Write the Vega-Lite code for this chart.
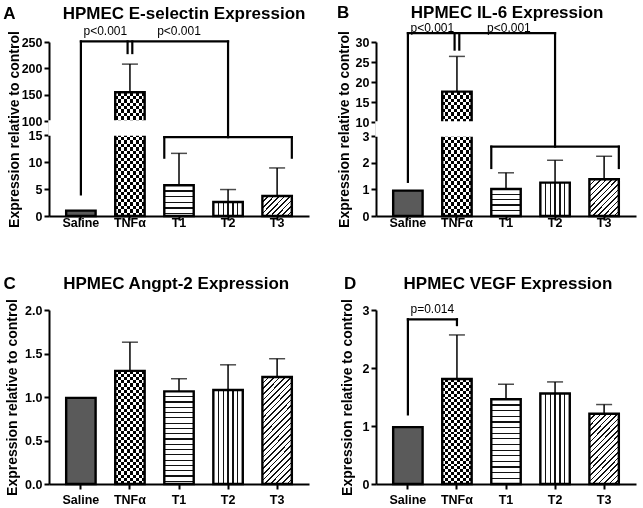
{
"$schema":"https://vega.github.io/schema/vega-lite/v6.json",
"background":"white",
"padding":{"left":3,"top":4,"right":5,"bottom":3},
"columns":2,
"spacing":{"row":45,"column":27},
"config":{
 "view":{"stroke":null},
 "axis":{"domainColor":"#000","domainWidth":2,"tickColor":"#000","tickWidth":2,"tickSize":5,"labelColor":"#000","labelFont":"Liberation Sans","labelFontSize":12.5,"labelFontWeight":"bold","titleColor":"#000","titleFont":"Liberation Sans","titleFontSize":14,"titleFontWeight":"bold","grid":false,"labelOverlap":false},
 "title":{"font":"Liberation Sans","fontSize":17,"fontWeight":"bold","color":"#000","anchor":"start","frame":"bounds","offset":2}
},
"datasets":{
 "A":[{"group":"Saline","mean":1},{"group":"TNFα","mean":154.5,"upper":208},{"group":"T1","mean":5.7,"upper":11.6},{"group":"T2","mean":2.6,"upper":4.9},{"group":"T3","mean":3.7,"upper":8.9}],
 "B":[{"group":"Saline","mean":0.95},{"group":"TNFα","mean":17.6,"upper":26.4},{"group":"T1","mean":1.01,"upper":1.62},{"group":"T2","mean":1.25,"upper":2.09},{"group":"T3","mean":1.38,"upper":2.24}],
 "C":[{"group":"Saline","mean":0.99},{"group":"TNFα","mean":1.3,"upper":1.63},{"group":"T1","mean":1.065,"upper":1.21},{"group":"T2","mean":1.08,"upper":1.37},{"group":"T3","mean":1.23,"upper":1.44}],
 "D":[{"group":"Saline","mean":0.98},{"group":"TNFα","mean":1.81,"upper":2.57},{"group":"T1","mean":1.46,"upper":1.72},{"group":"T2","mean":1.56,"upper":1.76},{"group":"T3","mean":1.21,"upper":1.37}],
 "Abr":[{"part":"mid","g1":"Saline","g2":"Saline","lo":4,"hi":251},{"part":"mid","g1":"Saline","g2":"T2","lo":251,"hi":251},{"part":"mid","g1":"T2","g2":"T2","lo":14.6,"hi":251},{"part":"tnf","g1":"TNFα","g2":"TNFα","lo":229,"hi":251},{"part":"l","g1":"T1","g2":"T1","lo":10.8,"hi":14.6},{"part":"h","g1":"T1","g2":"T3","lo":14.6,"hi":14.6},{"part":"r","g1":"T3","g2":"T3","lo":10.8,"hi":14.6}],
 "Bbr":[{"part":"mid","g1":"Saline","g2":"Saline","lo":1.28,"hi":32.2},{"part":"mid","g1":"Saline","g2":"T2","lo":32.2,"hi":32.2},{"part":"mid","g1":"T2","g2":"T2","lo":2.6,"hi":32.2},{"part":"tnf","g1":"TNFα","g2":"TNFα","lo":28.1,"hi":32.2},{"part":"l","g1":"T1","g2":"T1","lo":1.8,"hi":2.6},{"part":"h","g1":"T1","g2":"T3","lo":2.6,"hi":2.6},{"part":"r","g1":"T3","g2":"T3","lo":1.8,"hi":2.6}],
 "Dbr":[{"part":"mid","g1":"Saline","g2":"Saline","lo":1.2,"hi":2.84},{"part":"mid","g1":"Saline","g2":"TNFα","lo":2.84,"hi":2.84},{"part":"mid","g1":"TNFα","g2":"TNFα","lo":2.74,"hi":2.84}],
 "Atxt":[{"g":"Saline","v":263,"label":"p<0.001","k":"a"},{"g":"T1","v":263,"label":"p<0.001","k":"b"}],
 "Btxt":[{"g":"Saline","v":32.5,"label":"p<0.001","k":"a"},{"g":"T1","v":32.5,"label":"p<0.001","k":"b"}],
 "Dtxt":[{"g":"Saline","v":2.95,"label":"p=0.014","k":"a"}]
},
"concat":[
{
 "title":{"text":"A\u00a0\u00a0\u00a0\u00a0\u00a0\u00a0\u00a0\u00a0\u00a0\u00a0HPMEC E-selectin Expression","dx":-4},
 "width":260,"height":174,
 "layer":[
  {"data":{"name":"A"},"transform":[{"filter":"datum.group==='Saline'"}],"mark":{"type":"bar","fill":"#5a5a5a","strokeWidth":0},
   "encoding":{"x":{"field":"group","type":"nominal","scale":{"domain":["Saline","TNFα","T1","T2","T3"],"paddingInner":0.4,"paddingOuter":0.35},"axis":{"title":null,"labelAngle":0,"tickSize":4,"labelPadding":-4}},
    "y":{"field":"mean","type":"quantitative","scale":{"domain":[0,15,100,250],"range":[174,93,79,0],"nice":false,"zero":false},"axis":{"title":"Expression relative to control","values":[0,5,10,15,100,150,200,250],"tickCount":20,"format":"d","labelOverlap":false,"titlePadding":0}}}},
  {"data":{"name":"A"},"transform":[{"filter":"datum.group==='TNFα'"}],"mark":{"type":"bar","strokeWidth":0,"fill":{"gradient":"linear","x1":0,"y1":0,"x2":0,"y2":1,"stops":[{"offset":0,"color":"#000"},{"offset":0.0278,"color":"#000"},{"offset":0.0278,"color":"#fff"},{"offset":0.0556,"color":"#fff"},{"offset":0.0556,"color":"#000"},{"offset":0.0833,"color":"#000"},{"offset":0.0833,"color":"#fff"},{"offset":0.1111,"color":"#fff"},{"offset":0.1111,"color":"#000"},{"offset":0.1389,"color":"#000"},{"offset":0.1389,"color":"#fff"},{"offset":0.1667,"color":"#fff"},{"offset":0.1667,"color":"#000"},{"offset":0.1944,"color":"#000"},{"offset":0.1944,"color":"#fff"},{"offset":0.2222,"color":"#fff"},{"offset":0.2222,"color":"#000"},{"offset":0.25,"color":"#000"},{"offset":0.25,"color":"#fff"},{"offset":0.2778,"color":"#fff"},{"offset":0.2778,"color":"#000"},{"offset":0.3056,"color":"#000"},{"offset":0.3056,"color":"#fff"},{"offset":0.3333,"color":"#fff"},{"offset":0.3333,"color":"#000"},{"offset":0.3611,"color":"#000"},{"offset":0.3611,"color":"#fff"},{"offset":0.3889,"color":"#fff"},{"offset":0.3889,"color":"#000"},{"offset":0.4167,"color":"#000"},{"offset":0.4167,"color":"#fff"},{"offset":0.4444,"color":"#fff"},{"offset":0.4444,"color":"#000"},{"offset":0.4722,"color":"#000"},{"offset":0.4722,"color":"#fff"},{"offset":0.5,"color":"#fff"},{"offset":0.5,"color":"#000"},{"offset":0.5278,"color":"#000"},{"offset":0.5278,"color":"#fff"},{"offset":0.5556,"color":"#fff"},{"offset":0.5556,"color":"#000"},{"offset":0.5833,"color":"#000"},{"offset":0.5833,"color":"#fff"},{"offset":0.6111,"color":"#fff"},{"offset":0.6111,"color":"#000"},{"offset":0.6389,"color":"#000"},{"offset":0.6389,"color":"#fff"},{"offset":0.6667,"color":"#fff"},{"offset":0.6667,"color":"#000"},{"offset":0.6944,"color":"#000"},{"offset":0.6944,"color":"#fff"},{"offset":0.7222,"color":"#fff"},{"offset":0.7222,"color":"#000"},{"offset":0.75,"color":"#000"},{"offset":0.75,"color":"#fff"},{"offset":0.7778,"color":"#fff"},{"offset":0.7778,"color":"#000"},{"offset":0.8056,"color":"#000"},{"offset":0.8056,"color":"#fff"},{"offset":0.8333,"color":"#fff"},{"offset":0.8333,"color":"#000"},{"offset":0.8611,"color":"#000"},{"offset":0.8611,"color":"#fff"},{"offset":0.8889,"color":"#fff"},{"offset":0.8889,"color":"#000"},{"offset":0.9167,"color":"#000"},{"offset":0.9167,"color":"#fff"},{"offset":0.9444,"color":"#fff"},{"offset":0.9444,"color":"#000"},{"offset":0.9722,"color":"#000"},{"offset":0.9722,"color":"#fff"},{"offset":1,"color":"#fff"}]}},
   "encoding":{"x":{"field":"group","type":"nominal","scale":{"domain":["Saline","TNFα","T1","T2","T3"],"paddingInner":0.4,"paddingOuter":0.35}},"y":{"field":"mean","type":"quantitative","scale":{"domain":[0,15,100,250],"range":[174,93,79,0],"nice":false,"zero":false}}}},
  {"data":{"name":"A"},"transform":[{"filter":"datum.group==='TNFα'"}],"mark":{"type":"bar","strokeWidth":0,"blend":"difference","fill":{"gradient":"linear","x1":0,"y1":0,"x2":1,"y2":0,"stops":[{"offset":0,"color":"#fff"},{"offset":0.1,"color":"#fff"},{"offset":0.1,"color":"#000"},{"offset":0.2,"color":"#000"},{"offset":0.2,"color":"#fff"},{"offset":0.3,"color":"#fff"},{"offset":0.3,"color":"#000"},{"offset":0.4,"color":"#000"},{"offset":0.4,"color":"#fff"},{"offset":0.5,"color":"#fff"},{"offset":0.5,"color":"#000"},{"offset":0.6,"color":"#000"},{"offset":0.6,"color":"#fff"},{"offset":0.7,"color":"#fff"},{"offset":0.7,"color":"#000"},{"offset":0.8,"color":"#000"},{"offset":0.8,"color":"#fff"},{"offset":0.9,"color":"#fff"},{"offset":0.9,"color":"#000"},{"offset":1,"color":"#000"}]}},
   "encoding":{"x":{"field":"group","type":"nominal","scale":{"domain":["Saline","TNFα","T1","T2","T3"],"paddingInner":0.4,"paddingOuter":0.35}},"y":{"field":"mean","type":"quantitative","scale":{"domain":[0,15,100,250],"range":[174,93,79,0],"nice":false,"zero":false}}}},
  {"data":{"name":"A"},"transform":[{"filter":"datum.group==='T1'"}],"mark":{"type":"bar","strokeWidth":0,"fill":{"gradient":"linear","x1":0,"y1":0,"x2":0,"y2":1,"stops":[{"offset":0,"color":"#fff"},{"offset":0.165,"color":"#fff"},{"offset":0.165,"color":"#111"},{"offset":0.205,"color":"#111"},{"offset":0.205,"color":"#fff"},{"offset":0.35,"color":"#fff"},{"offset":0.35,"color":"#111"},{"offset":0.39,"color":"#111"},{"offset":0.39,"color":"#fff"},{"offset":0.535,"color":"#fff"},{"offset":0.535,"color":"#111"},{"offset":0.575,"color":"#111"},{"offset":0.575,"color":"#fff"},{"offset":0.72,"color":"#fff"},{"offset":0.72,"color":"#111"},{"offset":0.76,"color":"#111"},{"offset":0.76,"color":"#fff"},{"offset":0.905,"color":"#fff"},{"offset":0.905,"color":"#111"},{"offset":0.945,"color":"#111"},{"offset":0.945,"color":"#fff"},{"offset":1,"color":"#fff"}]}},
   "encoding":{"x":{"field":"group","type":"nominal","scale":{"domain":["Saline","TNFα","T1","T2","T3"],"paddingInner":0.4,"paddingOuter":0.35}},"y":{"field":"mean","type":"quantitative","scale":{"domain":[0,15,100,250],"range":[174,93,79,0],"nice":false,"zero":false}}}},
  {"data":{"name":"A"},"transform":[{"filter":"datum.group==='T2'"}],"mark":{"type":"bar","strokeWidth":0,"fill":{"gradient":"linear","x1":0,"y1":0,"x2":1,"y2":0,"stops":[{"offset":0,"color":"#fff"},{"offset":0.147,"color":"#fff"},{"offset":0.147,"color":"#111"},{"offset":0.187,"color":"#111"},{"offset":0.187,"color":"#fff"},{"offset":0.313,"color":"#fff"},{"offset":0.313,"color":"#111"},{"offset":0.353,"color":"#111"},{"offset":0.353,"color":"#fff"},{"offset":0.48,"color":"#fff"},{"offset":0.48,"color":"#111"},{"offset":0.52,"color":"#111"},{"offset":0.52,"color":"#fff"},{"offset":0.647,"color":"#fff"},{"offset":0.647,"color":"#111"},{"offset":0.687,"color":"#111"},{"offset":0.687,"color":"#fff"},{"offset":0.813,"color":"#fff"},{"offset":0.813,"color":"#111"},{"offset":0.853,"color":"#111"},{"offset":0.853,"color":"#fff"},{"offset":1,"color":"#fff"}]}},
   "encoding":{"x":{"field":"group","type":"nominal","scale":{"domain":["Saline","TNFα","T1","T2","T3"],"paddingInner":0.4,"paddingOuter":0.35}},"y":{"field":"mean","type":"quantitative","scale":{"domain":[0,15,100,250],"range":[174,93,79,0],"nice":false,"zero":false}}}},
  {"data":{"name":"A"},"transform":[{"filter":"datum.group==='T3'"}],"mark":{"type":"bar","strokeWidth":0,"fill":{"gradient":"linear","x1":0,"y1":0,"x2":1.154,"y2":0.769,"stops":[{"offset":0,"color":"#111"},{"offset":0.0333,"color":"#111"},{"offset":0.0333,"color":"#fff"},{"offset":0.1111,"color":"#fff"},{"offset":0.1111,"color":"#111"},{"offset":0.1444,"color":"#111"},{"offset":0.1444,"color":"#fff"},{"offset":0.2222,"color":"#fff"},{"offset":0.2222,"color":"#111"},{"offset":0.2555,"color":"#111"},{"offset":0.2555,"color":"#fff"},{"offset":0.3333,"color":"#fff"},{"offset":0.3333,"color":"#111"},{"offset":0.3666,"color":"#111"},{"offset":0.3666,"color":"#fff"},{"offset":0.4444,"color":"#fff"},{"offset":0.4444,"color":"#111"},{"offset":0.4777,"color":"#111"},{"offset":0.4777,"color":"#fff"},{"offset":0.5556,"color":"#fff"},{"offset":0.5556,"color":"#111"},{"offset":0.5889,"color":"#111"},{"offset":0.5889,"color":"#fff"},{"offset":0.6667,"color":"#fff"},{"offset":0.6667,"color":"#111"},{"offset":0.7,"color":"#111"},{"offset":0.7,"color":"#fff"},{"offset":0.7778,"color":"#fff"},{"offset":0.7778,"color":"#111"},{"offset":0.8111,"color":"#111"},{"offset":0.8111,"color":"#fff"},{"offset":0.8889,"color":"#fff"},{"offset":0.8889,"color":"#111"},{"offset":0.9222,"color":"#111"},{"offset":0.9222,"color":"#fff"},{"offset":1,"color":"#fff"}]}},
   "encoding":{"x":{"field":"group","type":"nominal","scale":{"domain":["Saline","TNFα","T1","T2","T3"],"paddingInner":0.4,"paddingOuter":0.35}},"y":{"field":"mean","type":"quantitative","scale":{"domain":[0,15,100,250],"range":[174,93,79,0],"nice":false,"zero":false}}}},
  {"data":{"name":"A"},"transform":[{"filter":"isValid(datum.upper)"}],"mark":{"type":"rule","color":"#000","strokeWidth":1.5},
   "encoding":{"x":{"field":"group","type":"nominal","scale":{"domain":["Saline","TNFα","T1","T2","T3"],"paddingInner":0.4,"paddingOuter":0.35}},"y":{"field":"mean","type":"quantitative","scale":{"domain":[0,15,100,250],"range":[174,93,79,0],"nice":false,"zero":false}},"y2":{"field":"upper"}}},
  {"data":{"name":"A"},"transform":[{"filter":"isValid(datum.upper)"}],"mark":{"type":"tick","color":"#000","size":16,"thickness":1.5},
   "encoding":{"x":{"field":"group","type":"nominal","scale":{"domain":["Saline","TNFα","T1","T2","T3"],"paddingInner":0.4,"paddingOuter":0.35}},"y":{"field":"upper","type":"quantitative","scale":{"domain":[0,15,100,250],"range":[174,93,79,0],"nice":false,"zero":false}}}},
  {"data":{"name":"A"},"mark":{"type":"bar","fillOpacity":0,"stroke":"#000","strokeWidth":2.4},
   "encoding":{"x":{"field":"group","type":"nominal","scale":{"domain":["Saline","TNFα","T1","T2","T3"],"paddingInner":0.4,"paddingOuter":0.35}},"y":{"field":"mean","type":"quantitative","scale":{"domain":[0,15,100,250],"range":[174,93,79,0],"nice":false,"zero":false}}}},
  {"data":{"values":[{"lo":15,"hi":100}]},"mark":{"type":"rect","fill":"#fff","stroke":"#fff","strokeWidth":1.5},
   "encoding":{"y":{"field":"lo","type":"quantitative","scale":{"domain":[0,15,100,250],"range":[174,93,79,0],"nice":false,"zero":false}},"y2":{"field":"hi"}}},
  {"data":{"name":"Abr"},"transform":[{"filter":"datum.part==='mid'"}],"mark":{"type":"rule","color":"#000","strokeWidth":2.2,"strokeCap":"square"},
   "encoding":{"x":{"field":"g1","type":"nominal","scale":{"domain":["Saline","TNFα","T1","T2","T3"],"paddingInner":0.4,"paddingOuter":0.35}},"x2":{"field":"g2"},"y":{"field":"lo","type":"quantitative","scale":{"domain":[0,15,100,250],"range":[174,93,79,0],"nice":false,"zero":false}},"y2":{"field":"hi"}}},
  {"data":{"name":"Abr"},"transform":[{"filter":"datum.part==='tnf'"}],"mark":{"type":"rule","color":"#000","strokeWidth":2.2,"strokeCap":"square"},
   "encoding":{"x":{"field":"g1","type":"nominal","bandPosition":0.42,"scale":{"domain":["Saline","TNFα","T1","T2","T3"],"paddingInner":0.4,"paddingOuter":0.35}},"y":{"field":"lo","type":"quantitative","scale":{"domain":[0,15,100,250],"range":[174,93,79,0],"nice":false,"zero":false}},"y2":{"field":"hi"}}},
  {"data":{"name":"Abr"},"transform":[{"filter":"datum.part==='tnf'"}],"mark":{"type":"rule","color":"#000","strokeWidth":2.2,"strokeCap":"square"},
   "encoding":{"x":{"field":"g1","type":"nominal","bandPosition":0.58,"scale":{"domain":["Saline","TNFα","T1","T2","T3"],"paddingInner":0.4,"paddingOuter":0.35}},"y":{"field":"lo","type":"quantitative","scale":{"domain":[0,15,100,250],"range":[174,93,79,0],"nice":false,"zero":false}},"y2":{"field":"hi"}}},
  {"data":{"name":"Abr"},"transform":[{"filter":"datum.part==='l'"}],"mark":{"type":"rule","color":"#000","strokeWidth":2.2,"strokeCap":"square"},
   "encoding":{"x":{"field":"g1","type":"nominal","bandPosition":0,"scale":{"domain":["Saline","TNFα","T1","T2","T3"],"paddingInner":0.4,"paddingOuter":0.35}},"y":{"field":"lo","type":"quantitative","scale":{"domain":[0,15,100,250],"range":[174,93,79,0],"nice":false,"zero":false}},"y2":{"field":"hi"}}},
  {"data":{"name":"Abr"},"transform":[{"filter":"datum.part==='r'"}],"mark":{"type":"rule","color":"#000","strokeWidth":2.2,"strokeCap":"square"},
   "encoding":{"x":{"field":"g1","type":"nominal","bandPosition":1,"scale":{"domain":["Saline","TNFα","T1","T2","T3"],"paddingInner":0.4,"paddingOuter":0.35}},"y":{"field":"lo","type":"quantitative","scale":{"domain":[0,15,100,250],"range":[174,93,79,0],"nice":false,"zero":false}},"y2":{"field":"hi"}}},
  {"data":{"name":"Abr"},"transform":[{"filter":"datum.part==='h'"}],"mark":{"type":"rule","color":"#000","strokeWidth":2.2,"strokeCap":"square"},
   "encoding":{"x":{"field":"g1","type":"nominal","bandPosition":0,"scale":{"domain":["Saline","TNFα","T1","T2","T3"],"paddingInner":0.4,"paddingOuter":0.35}},"x2":{"field":"g2","bandPosition":1},"y":{"field":"lo","type":"quantitative","scale":{"domain":[0,15,100,250],"range":[174,93,79,0],"nice":false,"zero":false}},"y2":{"field":"hi"}}},
  {"data":{"name":"Atxt"},"transform":[{"filter":"datum.k==='a'"}],"mark":{"type":"text","font":"Liberation Sans","fontSize":12,"color":"#000","align":"center","baseline":"alphabetic"},
   "encoding":{"x":{"field":"g","type":"nominal","bandPosition":1.33,"scale":{"domain":["Saline","TNFα","T1","T2","T3"],"paddingInner":0.4,"paddingOuter":0.35}},"y":{"field":"v","type":"quantitative","scale":{"domain":[0,15,100,250],"range":[174,93,79,0],"nice":false,"zero":false}},"text":{"field":"label"}}},
  {"data":{"name":"Atxt"},"transform":[{"filter":"datum.k==='b'"}],"mark":{"type":"text","font":"Liberation Sans","fontSize":12,"color":"#000","align":"center","baseline":"alphabetic"},
   "encoding":{"x":{"field":"g","type":"nominal","bandPosition":0.5,"scale":{"domain":["Saline","TNFα","T1","T2","T3"],"paddingInner":0.4,"paddingOuter":0.35}},"y":{"field":"v","type":"quantitative","scale":{"domain":[0,15,100,250],"range":[174,93,79,0],"nice":false,"zero":false}},"text":{"field":"label"}}}
 ]
},
{
 "title":{"text":"B\u00a0\u00a0\u00a0\u00a0\u00a0\u00a0\u00a0\u00a0\u00a0\u00a0\u00a0\u00a0\u00a0HPMEC IL-6 Expression","dx":0,"offset":0},
 "width":260,"height":174,
 "layer":[
  {"data":{"name":"B"},"transform":[{"filter":"datum.group==='Saline'"}],"mark":{"type":"bar","fill":"#5a5a5a","strokeWidth":0},
   "encoding":{"x":{"field":"group","type":"nominal","scale":{"domain":["Saline","TNFα","T1","T2","T3"],"paddingInner":0.4,"paddingOuter":0.35},"axis":{"title":null,"labelAngle":0,"tickSize":4,"labelPadding":-4}},
    "y":{"field":"mean","type":"quantitative","scale":{"domain":[0,3,10,30],"range":[174,94,80,0],"nice":false,"zero":false},"axis":{"title":"Expression relative to control","values":[0,1,2,3,10,15,20,25,30],"tickCount":20,"format":"d","labelOverlap":false,"titlePadding":4}}}},
  {"data":{"name":"B"},"transform":[{"filter":"datum.group==='TNFα'"}],"mark":{"type":"bar","strokeWidth":0,"fill":{"gradient":"linear","x1":0,"y1":0,"x2":0,"y2":1,"stops":[{"offset":0,"color":"#000"},{"offset":0.0278,"color":"#000"},{"offset":0.0278,"color":"#fff"},{"offset":0.0556,"color":"#fff"},{"offset":0.0556,"color":"#000"},{"offset":0.0833,"color":"#000"},{"offset":0.0833,"color":"#fff"},{"offset":0.1111,"color":"#fff"},{"offset":0.1111,"color":"#000"},{"offset":0.1389,"color":"#000"},{"offset":0.1389,"color":"#fff"},{"offset":0.1667,"color":"#fff"},{"offset":0.1667,"color":"#000"},{"offset":0.1944,"color":"#000"},{"offset":0.1944,"color":"#fff"},{"offset":0.2222,"color":"#fff"},{"offset":0.2222,"color":"#000"},{"offset":0.25,"color":"#000"},{"offset":0.25,"color":"#fff"},{"offset":0.2778,"color":"#fff"},{"offset":0.2778,"color":"#000"},{"offset":0.3056,"color":"#000"},{"offset":0.3056,"color":"#fff"},{"offset":0.3333,"color":"#fff"},{"offset":0.3333,"color":"#000"},{"offset":0.3611,"color":"#000"},{"offset":0.3611,"color":"#fff"},{"offset":0.3889,"color":"#fff"},{"offset":0.3889,"color":"#000"},{"offset":0.4167,"color":"#000"},{"offset":0.4167,"color":"#fff"},{"offset":0.4444,"color":"#fff"},{"offset":0.4444,"color":"#000"},{"offset":0.4722,"color":"#000"},{"offset":0.4722,"color":"#fff"},{"offset":0.5,"color":"#fff"},{"offset":0.5,"color":"#000"},{"offset":0.5278,"color":"#000"},{"offset":0.5278,"color":"#fff"},{"offset":0.5556,"color":"#fff"},{"offset":0.5556,"color":"#000"},{"offset":0.5833,"color":"#000"},{"offset":0.5833,"color":"#fff"},{"offset":0.6111,"color":"#fff"},{"offset":0.6111,"color":"#000"},{"offset":0.6389,"color":"#000"},{"offset":0.6389,"color":"#fff"},{"offset":0.6667,"color":"#fff"},{"offset":0.6667,"color":"#000"},{"offset":0.6944,"color":"#000"},{"offset":0.6944,"color":"#fff"},{"offset":0.7222,"color":"#fff"},{"offset":0.7222,"color":"#000"},{"offset":0.75,"color":"#000"},{"offset":0.75,"color":"#fff"},{"offset":0.7778,"color":"#fff"},{"offset":0.7778,"color":"#000"},{"offset":0.8056,"color":"#000"},{"offset":0.8056,"color":"#fff"},{"offset":0.8333,"color":"#fff"},{"offset":0.8333,"color":"#000"},{"offset":0.8611,"color":"#000"},{"offset":0.8611,"color":"#fff"},{"offset":0.8889,"color":"#fff"},{"offset":0.8889,"color":"#000"},{"offset":0.9167,"color":"#000"},{"offset":0.9167,"color":"#fff"},{"offset":0.9444,"color":"#fff"},{"offset":0.9444,"color":"#000"},{"offset":0.9722,"color":"#000"},{"offset":0.9722,"color":"#fff"},{"offset":1,"color":"#fff"}]}},
   "encoding":{"x":{"field":"group","type":"nominal","scale":{"domain":["Saline","TNFα","T1","T2","T3"],"paddingInner":0.4,"paddingOuter":0.35}},"y":{"field":"mean","type":"quantitative","scale":{"domain":[0,3,10,30],"range":[174,94,80,0],"nice":false,"zero":false}}}},
  {"data":{"name":"B"},"transform":[{"filter":"datum.group==='TNFα'"}],"mark":{"type":"bar","strokeWidth":0,"blend":"difference","fill":{"gradient":"linear","x1":0,"y1":0,"x2":1,"y2":0,"stops":[{"offset":0,"color":"#fff"},{"offset":0.1,"color":"#fff"},{"offset":0.1,"color":"#000"},{"offset":0.2,"color":"#000"},{"offset":0.2,"color":"#fff"},{"offset":0.3,"color":"#fff"},{"offset":0.3,"color":"#000"},{"offset":0.4,"color":"#000"},{"offset":0.4,"color":"#fff"},{"offset":0.5,"color":"#fff"},{"offset":0.5,"color":"#000"},{"offset":0.6,"color":"#000"},{"offset":0.6,"color":"#fff"},{"offset":0.7,"color":"#fff"},{"offset":0.7,"color":"#000"},{"offset":0.8,"color":"#000"},{"offset":0.8,"color":"#fff"},{"offset":0.9,"color":"#fff"},{"offset":0.9,"color":"#000"},{"offset":1,"color":"#000"}]}},
   "encoding":{"x":{"field":"group","type":"nominal","scale":{"domain":["Saline","TNFα","T1","T2","T3"],"paddingInner":0.4,"paddingOuter":0.35}},"y":{"field":"mean","type":"quantitative","scale":{"domain":[0,3,10,30],"range":[174,94,80,0],"nice":false,"zero":false}}}},
  {"data":{"name":"B"},"transform":[{"filter":"datum.group==='T1'"}],"mark":{"type":"bar","strokeWidth":0,"fill":{"gradient":"linear","x1":0,"y1":0,"x2":0,"y2":1,"stops":[{"offset":0,"color":"#fff"},{"offset":0.168,"color":"#fff"},{"offset":0.168,"color":"#111"},{"offset":0.212,"color":"#111"},{"offset":0.212,"color":"#fff"},{"offset":0.368,"color":"#fff"},{"offset":0.368,"color":"#111"},{"offset":0.412,"color":"#111"},{"offset":0.412,"color":"#fff"},{"offset":0.568,"color":"#fff"},{"offset":0.568,"color":"#111"},{"offset":0.612,"color":"#111"},{"offset":0.612,"color":"#fff"},{"offset":0.768,"color":"#fff"},{"offset":0.768,"color":"#111"},{"offset":0.812,"color":"#111"},{"offset":0.812,"color":"#fff"},{"offset":1,"color":"#fff"}]}},
   "encoding":{"x":{"field":"group","type":"nominal","scale":{"domain":["Saline","TNFα","T1","T2","T3"],"paddingInner":0.4,"paddingOuter":0.35}},"y":{"field":"mean","type":"quantitative","scale":{"domain":[0,3,10,30],"range":[174,94,80,0],"nice":false,"zero":false}}}},
  {"data":{"name":"B"},"transform":[{"filter":"datum.group==='T2'"}],"mark":{"type":"bar","strokeWidth":0,"fill":{"gradient":"linear","x1":0,"y1":0,"x2":1,"y2":0,"stops":[{"offset":0,"color":"#fff"},{"offset":0.147,"color":"#fff"},{"offset":0.147,"color":"#111"},{"offset":0.187,"color":"#111"},{"offset":0.187,"color":"#fff"},{"offset":0.313,"color":"#fff"},{"offset":0.313,"color":"#111"},{"offset":0.353,"color":"#111"},{"offset":0.353,"color":"#fff"},{"offset":0.48,"color":"#fff"},{"offset":0.48,"color":"#111"},{"offset":0.52,"color":"#111"},{"offset":0.52,"color":"#fff"},{"offset":0.647,"color":"#fff"},{"offset":0.647,"color":"#111"},{"offset":0.687,"color":"#111"},{"offset":0.687,"color":"#fff"},{"offset":0.813,"color":"#fff"},{"offset":0.813,"color":"#111"},{"offset":0.853,"color":"#111"},{"offset":0.853,"color":"#fff"},{"offset":1,"color":"#fff"}]}},
   "encoding":{"x":{"field":"group","type":"nominal","scale":{"domain":["Saline","TNFα","T1","T2","T3"],"paddingInner":0.4,"paddingOuter":0.35}},"y":{"field":"mean","type":"quantitative","scale":{"domain":[0,3,10,30],"range":[174,94,80,0],"nice":false,"zero":false}}}},
  {"data":{"name":"B"},"transform":[{"filter":"datum.group==='T3'"}],"mark":{"type":"bar","strokeWidth":0,"fill":{"gradient":"linear","x1":0,"y1":0,"x2":0.89,"y2":1.09,"stops":[{"offset":0,"color":"#111"},{"offset":0.025,"color":"#111"},{"offset":0.025,"color":"#fff"},{"offset":0.0833,"color":"#fff"},{"offset":0.0833,"color":"#111"},{"offset":0.1083,"color":"#111"},{"offset":0.1083,"color":"#fff"},{"offset":0.1667,"color":"#fff"},{"offset":0.1667,"color":"#111"},{"offset":0.1917,"color":"#111"},{"offset":0.1917,"color":"#fff"},{"offset":0.25,"color":"#fff"},{"offset":0.25,"color":"#111"},{"offset":0.275,"color":"#111"},{"offset":0.275,"color":"#fff"},{"offset":0.3333,"color":"#fff"},{"offset":0.3333,"color":"#111"},{"offset":0.3583,"color":"#111"},{"offset":0.3583,"color":"#fff"},{"offset":0.4167,"color":"#fff"},{"offset":0.4167,"color":"#111"},{"offset":0.4417,"color":"#111"},{"offset":0.4417,"color":"#fff"},{"offset":0.5,"color":"#fff"},{"offset":0.5,"color":"#111"},{"offset":0.525,"color":"#111"},{"offset":0.525,"color":"#fff"},{"offset":0.5833,"color":"#fff"},{"offset":0.5833,"color":"#111"},{"offset":0.6083,"color":"#111"},{"offset":0.6083,"color":"#fff"},{"offset":0.6667,"color":"#fff"},{"offset":0.6667,"color":"#111"},{"offset":0.6917,"color":"#111"},{"offset":0.6917,"color":"#fff"},{"offset":0.75,"color":"#fff"},{"offset":0.75,"color":"#111"},{"offset":0.775,"color":"#111"},{"offset":0.775,"color":"#fff"},{"offset":0.8333,"color":"#fff"},{"offset":0.8333,"color":"#111"},{"offset":0.8583,"color":"#111"},{"offset":0.8583,"color":"#fff"},{"offset":0.9167,"color":"#fff"},{"offset":0.9167,"color":"#111"},{"offset":0.9417,"color":"#111"},{"offset":0.9417,"color":"#fff"},{"offset":1,"color":"#fff"}]}},
   "encoding":{"x":{"field":"group","type":"nominal","scale":{"domain":["Saline","TNFα","T1","T2","T3"],"paddingInner":0.4,"paddingOuter":0.35}},"y":{"field":"mean","type":"quantitative","scale":{"domain":[0,3,10,30],"range":[174,94,80,0],"nice":false,"zero":false}}}},
  {"data":{"name":"B"},"transform":[{"filter":"isValid(datum.upper)"}],"mark":{"type":"rule","color":"#000","strokeWidth":1.5},
   "encoding":{"x":{"field":"group","type":"nominal","scale":{"domain":["Saline","TNFα","T1","T2","T3"],"paddingInner":0.4,"paddingOuter":0.35}},"y":{"field":"mean","type":"quantitative","scale":{"domain":[0,3,10,30],"range":[174,94,80,0],"nice":false,"zero":false}},"y2":{"field":"upper"}}},
  {"data":{"name":"B"},"transform":[{"filter":"isValid(datum.upper)"}],"mark":{"type":"tick","color":"#000","size":16,"thickness":1.5},
   "encoding":{"x":{"field":"group","type":"nominal","scale":{"domain":["Saline","TNFα","T1","T2","T3"],"paddingInner":0.4,"paddingOuter":0.35}},"y":{"field":"upper","type":"quantitative","scale":{"domain":[0,3,10,30],"range":[174,94,80,0],"nice":false,"zero":false}}}},
  {"data":{"name":"B"},"mark":{"type":"bar","fillOpacity":0,"stroke":"#000","strokeWidth":2.4},
   "encoding":{"x":{"field":"group","type":"nominal","scale":{"domain":["Saline","TNFα","T1","T2","T3"],"paddingInner":0.4,"paddingOuter":0.35}},"y":{"field":"mean","type":"quantitative","scale":{"domain":[0,3,10,30],"range":[174,94,80,0],"nice":false,"zero":false}}}},
  {"data":{"values":[{"lo":3,"hi":10}]},"mark":{"type":"rect","fill":"#fff","stroke":"#fff","strokeWidth":1.5},
   "encoding":{"y":{"field":"lo","type":"quantitative","scale":{"domain":[0,3,10,30],"range":[174,94,80,0],"nice":false,"zero":false}},"y2":{"field":"hi"}}},
  {"data":{"name":"Bbr"},"transform":[{"filter":"datum.part==='mid'"}],"mark":{"type":"rule","color":"#000","strokeWidth":2.2,"strokeCap":"square"},
   "encoding":{"x":{"field":"g1","type":"nominal","scale":{"domain":["Saline","TNFα","T1","T2","T3"],"paddingInner":0.4,"paddingOuter":0.35}},"x2":{"field":"g2"},"y":{"field":"lo","type":"quantitative","scale":{"domain":[0,3,10,30],"range":[174,94,80,0],"nice":false,"zero":false}},"y2":{"field":"hi"}}},
  {"data":{"name":"Bbr"},"transform":[{"filter":"datum.part==='tnf'"}],"mark":{"type":"rule","color":"#000","strokeWidth":2.2,"strokeCap":"square"},
   "encoding":{"x":{"field":"g1","type":"nominal","bandPosition":0.42,"scale":{"domain":["Saline","TNFα","T1","T2","T3"],"paddingInner":0.4,"paddingOuter":0.35}},"y":{"field":"lo","type":"quantitative","scale":{"domain":[0,3,10,30],"range":[174,94,80,0],"nice":false,"zero":false}},"y2":{"field":"hi"}}},
  {"data":{"name":"Bbr"},"transform":[{"filter":"datum.part==='tnf'"}],"mark":{"type":"rule","color":"#000","strokeWidth":2.2,"strokeCap":"square"},
   "encoding":{"x":{"field":"g1","type":"nominal","bandPosition":0.58,"scale":{"domain":["Saline","TNFα","T1","T2","T3"],"paddingInner":0.4,"paddingOuter":0.35}},"y":{"field":"lo","type":"quantitative","scale":{"domain":[0,3,10,30],"range":[174,94,80,0],"nice":false,"zero":false}},"y2":{"field":"hi"}}},
  {"data":{"name":"Bbr"},"transform":[{"filter":"datum.part==='l'"}],"mark":{"type":"rule","color":"#000","strokeWidth":2.2,"strokeCap":"square"},
   "encoding":{"x":{"field":"g1","type":"nominal","bandPosition":0,"scale":{"domain":["Saline","TNFα","T1","T2","T3"],"paddingInner":0.4,"paddingOuter":0.35}},"y":{"field":"lo","type":"quantitative","scale":{"domain":[0,3,10,30],"range":[174,94,80,0],"nice":false,"zero":false}},"y2":{"field":"hi"}}},
  {"data":{"name":"Bbr"},"transform":[{"filter":"datum.part==='r'"}],"mark":{"type":"rule","color":"#000","strokeWidth":2.2,"strokeCap":"square"},
   "encoding":{"x":{"field":"g1","type":"nominal","bandPosition":1,"scale":{"domain":["Saline","TNFα","T1","T2","T3"],"paddingInner":0.4,"paddingOuter":0.35}},"y":{"field":"lo","type":"quantitative","scale":{"domain":[0,3,10,30],"range":[174,94,80,0],"nice":false,"zero":false}},"y2":{"field":"hi"}}},
  {"data":{"name":"Bbr"},"transform":[{"filter":"datum.part==='h'"}],"mark":{"type":"rule","color":"#000","strokeWidth":2.2,"strokeCap":"square"},
   "encoding":{"x":{"field":"g1","type":"nominal","bandPosition":0,"scale":{"domain":["Saline","TNFα","T1","T2","T3"],"paddingInner":0.4,"paddingOuter":0.35}},"x2":{"field":"g2","bandPosition":1},"y":{"field":"lo","type":"quantitative","scale":{"domain":[0,3,10,30],"range":[174,94,80,0],"nice":false,"zero":false}},"y2":{"field":"hi"}}},
  {"data":{"name":"Btxt"},"transform":[{"filter":"datum.k==='a'"}],"mark":{"type":"text","font":"Liberation Sans","fontSize":12,"color":"#000","align":"center","baseline":"alphabetic"},
   "encoding":{"x":{"field":"g","type":"nominal","bandPosition":1.33,"scale":{"domain":["Saline","TNFα","T1","T2","T3"],"paddingInner":0.4,"paddingOuter":0.35}},"y":{"field":"v","type":"quantitative","scale":{"domain":[0,3,10,30],"range":[174,94,80,0],"nice":false,"zero":false}},"text":{"field":"label"}}},
  {"data":{"name":"Btxt"},"transform":[{"filter":"datum.k==='b'"}],"mark":{"type":"text","font":"Liberation Sans","fontSize":12,"color":"#000","align":"center","baseline":"alphabetic"},
   "encoding":{"x":{"field":"g","type":"nominal","bandPosition":0.6,"scale":{"domain":["Saline","TNFα","T1","T2","T3"],"paddingInner":0.4,"paddingOuter":0.35}},"y":{"field":"v","type":"quantitative","scale":{"domain":[0,3,10,30],"range":[174,94,80,0],"nice":false,"zero":false}},"text":{"field":"label"}}}
 ]
},
{
 "title":{"text":"C\u00a0\u00a0\u00a0\u00a0\u00a0\u00a0\u00a0\u00a0\u00a0\u00a0HPMEC Angpt-2 Expression","dx":-2,"offset":6},
 "width":260,"height":174,
 "layer":[
  {"data":{"name":"C"},"transform":[{"filter":"datum.group==='Saline'"}],"mark":{"type":"bar","fill":"#5a5a5a","strokeWidth":0},
   "encoding":{"x":{"field":"group","type":"nominal","scale":{"domain":["Saline","TNFα","T1","T2","T3"],"paddingInner":0.4,"paddingOuter":0.35},"axis":{"title":null,"labelAngle":0,"tickSize":5,"labelPadding":4}},
    "y":{"field":"mean","type":"quantitative","scale":{"domain":[0,2],"nice":false,"zero":false},"axis":{"title":"Expression relative to control","values":[0,0.5,1,1.5,2],"tickCount":20,"format":".1f","labelOverlap":false,"titlePadding":5}}}},
  {"data":{"name":"C"},"transform":[{"filter":"datum.group==='TNFα'"}],"mark":{"type":"bar","strokeWidth":0,"fill":{"gradient":"linear","x1":0,"y1":0,"x2":0,"y2":1,"stops":[{"offset":0,"color":"#000"},{"offset":0.0278,"color":"#000"},{"offset":0.0278,"color":"#fff"},{"offset":0.0556,"color":"#fff"},{"offset":0.0556,"color":"#000"},{"offset":0.0833,"color":"#000"},{"offset":0.0833,"color":"#fff"},{"offset":0.1111,"color":"#fff"},{"offset":0.1111,"color":"#000"},{"offset":0.1389,"color":"#000"},{"offset":0.1389,"color":"#fff"},{"offset":0.1667,"color":"#fff"},{"offset":0.1667,"color":"#000"},{"offset":0.1944,"color":"#000"},{"offset":0.1944,"color":"#fff"},{"offset":0.2222,"color":"#fff"},{"offset":0.2222,"color":"#000"},{"offset":0.25,"color":"#000"},{"offset":0.25,"color":"#fff"},{"offset":0.2778,"color":"#fff"},{"offset":0.2778,"color":"#000"},{"offset":0.3056,"color":"#000"},{"offset":0.3056,"color":"#fff"},{"offset":0.3333,"color":"#fff"},{"offset":0.3333,"color":"#000"},{"offset":0.3611,"color":"#000"},{"offset":0.3611,"color":"#fff"},{"offset":0.3889,"color":"#fff"},{"offset":0.3889,"color":"#000"},{"offset":0.4167,"color":"#000"},{"offset":0.4167,"color":"#fff"},{"offset":0.4444,"color":"#fff"},{"offset":0.4444,"color":"#000"},{"offset":0.4722,"color":"#000"},{"offset":0.4722,"color":"#fff"},{"offset":0.5,"color":"#fff"},{"offset":0.5,"color":"#000"},{"offset":0.5278,"color":"#000"},{"offset":0.5278,"color":"#fff"},{"offset":0.5556,"color":"#fff"},{"offset":0.5556,"color":"#000"},{"offset":0.5833,"color":"#000"},{"offset":0.5833,"color":"#fff"},{"offset":0.6111,"color":"#fff"},{"offset":0.6111,"color":"#000"},{"offset":0.6389,"color":"#000"},{"offset":0.6389,"color":"#fff"},{"offset":0.6667,"color":"#fff"},{"offset":0.6667,"color":"#000"},{"offset":0.6944,"color":"#000"},{"offset":0.6944,"color":"#fff"},{"offset":0.7222,"color":"#fff"},{"offset":0.7222,"color":"#000"},{"offset":0.75,"color":"#000"},{"offset":0.75,"color":"#fff"},{"offset":0.7778,"color":"#fff"},{"offset":0.7778,"color":"#000"},{"offset":0.8056,"color":"#000"},{"offset":0.8056,"color":"#fff"},{"offset":0.8333,"color":"#fff"},{"offset":0.8333,"color":"#000"},{"offset":0.8611,"color":"#000"},{"offset":0.8611,"color":"#fff"},{"offset":0.8889,"color":"#fff"},{"offset":0.8889,"color":"#000"},{"offset":0.9167,"color":"#000"},{"offset":0.9167,"color":"#fff"},{"offset":0.9444,"color":"#fff"},{"offset":0.9444,"color":"#000"},{"offset":0.9722,"color":"#000"},{"offset":0.9722,"color":"#fff"},{"offset":1,"color":"#fff"}]}},
   "encoding":{"x":{"field":"group","type":"nominal","scale":{"domain":["Saline","TNFα","T1","T2","T3"],"paddingInner":0.4,"paddingOuter":0.35}},"y":{"field":"mean","type":"quantitative","scale":{"domain":[0,2],"nice":false,"zero":false}}}},
  {"data":{"name":"C"},"transform":[{"filter":"datum.group==='TNFα'"}],"mark":{"type":"bar","strokeWidth":0,"blend":"difference","fill":{"gradient":"linear","x1":0,"y1":0,"x2":1,"y2":0,"stops":[{"offset":0,"color":"#fff"},{"offset":0.1,"color":"#fff"},{"offset":0.1,"color":"#000"},{"offset":0.2,"color":"#000"},{"offset":0.2,"color":"#fff"},{"offset":0.3,"color":"#fff"},{"offset":0.3,"color":"#000"},{"offset":0.4,"color":"#000"},{"offset":0.4,"color":"#fff"},{"offset":0.5,"color":"#fff"},{"offset":0.5,"color":"#000"},{"offset":0.6,"color":"#000"},{"offset":0.6,"color":"#fff"},{"offset":0.7,"color":"#fff"},{"offset":0.7,"color":"#000"},{"offset":0.8,"color":"#000"},{"offset":0.8,"color":"#fff"},{"offset":0.9,"color":"#fff"},{"offset":0.9,"color":"#000"},{"offset":1,"color":"#000"}]}},
   "encoding":{"x":{"field":"group","type":"nominal","scale":{"domain":["Saline","TNFα","T1","T2","T3"],"paddingInner":0.4,"paddingOuter":0.35}},"y":{"field":"mean","type":"quantitative","scale":{"domain":[0,2],"nice":false,"zero":false}}}},
  {"data":{"name":"C"},"transform":[{"filter":"datum.group==='T1'"}],"mark":{"type":"bar","strokeWidth":0,"fill":{"gradient":"linear","x1":0,"y1":0,"x2":0,"y2":1,"stops":[{"offset":0,"color":"#fff"},{"offset":0.0506,"color":"#fff"},{"offset":0.0506,"color":"#111"},{"offset":0.0636,"color":"#111"},{"offset":0.0636,"color":"#fff"},{"offset":0.1078,"color":"#fff"},{"offset":0.1078,"color":"#111"},{"offset":0.1208,"color":"#111"},{"offset":0.1208,"color":"#fff"},{"offset":0.1649,"color":"#fff"},{"offset":0.1649,"color":"#111"},{"offset":0.1779,"color":"#111"},{"offset":0.1779,"color":"#fff"},{"offset":0.2221,"color":"#fff"},{"offset":0.2221,"color":"#111"},{"offset":0.2351,"color":"#111"},{"offset":0.2351,"color":"#fff"},{"offset":0.2792,"color":"#fff"},{"offset":0.2792,"color":"#111"},{"offset":0.2922,"color":"#111"},{"offset":0.2922,"color":"#fff"},{"offset":0.3364,"color":"#fff"},{"offset":0.3364,"color":"#111"},{"offset":0.3494,"color":"#111"},{"offset":0.3494,"color":"#fff"},{"offset":0.3935,"color":"#fff"},{"offset":0.3935,"color":"#111"},{"offset":0.4065,"color":"#111"},{"offset":0.4065,"color":"#fff"},{"offset":0.4506,"color":"#fff"},{"offset":0.4506,"color":"#111"},{"offset":0.4636,"color":"#111"},{"offset":0.4636,"color":"#fff"},{"offset":0.5078,"color":"#fff"},{"offset":0.5078,"color":"#111"},{"offset":0.5208,"color":"#111"},{"offset":0.5208,"color":"#fff"},{"offset":0.5649,"color":"#fff"},{"offset":0.5649,"color":"#111"},{"offset":0.5779,"color":"#111"},{"offset":0.5779,"color":"#fff"},{"offset":0.6221,"color":"#fff"},{"offset":0.6221,"color":"#111"},{"offset":0.6351,"color":"#111"},{"offset":0.6351,"color":"#fff"},{"offset":0.6792,"color":"#fff"},{"offset":0.6792,"color":"#111"},{"offset":0.6922,"color":"#111"},{"offset":0.6922,"color":"#fff"},{"offset":0.7364,"color":"#fff"},{"offset":0.7364,"color":"#111"},{"offset":0.7494,"color":"#111"},{"offset":0.7494,"color":"#fff"},{"offset":0.7935,"color":"#fff"},{"offset":0.7935,"color":"#111"},{"offset":0.8065,"color":"#111"},{"offset":0.8065,"color":"#fff"},{"offset":0.8506,"color":"#fff"},{"offset":0.8506,"color":"#111"},{"offset":0.8636,"color":"#111"},{"offset":0.8636,"color":"#fff"},{"offset":0.9078,"color":"#fff"},{"offset":0.9078,"color":"#111"},{"offset":0.9208,"color":"#111"},{"offset":0.9208,"color":"#fff"},{"offset":0.9649,"color":"#fff"},{"offset":0.9649,"color":"#111"},{"offset":0.9779,"color":"#111"},{"offset":0.9779,"color":"#fff"},{"offset":1,"color":"#fff"}]}},
   "encoding":{"x":{"field":"group","type":"nominal","scale":{"domain":["Saline","TNFα","T1","T2","T3"],"paddingInner":0.4,"paddingOuter":0.35}},"y":{"field":"mean","type":"quantitative","scale":{"domain":[0,2],"nice":false,"zero":false}}}},
  {"data":{"name":"C"},"transform":[{"filter":"datum.group==='T2'"}],"mark":{"type":"bar","strokeWidth":0,"fill":{"gradient":"linear","x1":0,"y1":0,"x2":1,"y2":0,"stops":[{"offset":0,"color":"#fff"},{"offset":0.147,"color":"#fff"},{"offset":0.147,"color":"#111"},{"offset":0.187,"color":"#111"},{"offset":0.187,"color":"#fff"},{"offset":0.313,"color":"#fff"},{"offset":0.313,"color":"#111"},{"offset":0.353,"color":"#111"},{"offset":0.353,"color":"#fff"},{"offset":0.48,"color":"#fff"},{"offset":0.48,"color":"#111"},{"offset":0.52,"color":"#111"},{"offset":0.52,"color":"#fff"},{"offset":0.647,"color":"#fff"},{"offset":0.647,"color":"#111"},{"offset":0.687,"color":"#111"},{"offset":0.687,"color":"#fff"},{"offset":0.813,"color":"#fff"},{"offset":0.813,"color":"#111"},{"offset":0.853,"color":"#111"},{"offset":0.853,"color":"#fff"},{"offset":1,"color":"#fff"}]}},
   "encoding":{"x":{"field":"group","type":"nominal","scale":{"domain":["Saline","TNFα","T1","T2","T3"],"paddingInner":0.4,"paddingOuter":0.35}},"y":{"field":"mean","type":"quantitative","scale":{"domain":[0,2],"nice":false,"zero":false}}}},
  {"data":{"name":"C"},"transform":[{"filter":"datum.group==='T3'"}],"mark":{"type":"bar","strokeWidth":0,"fill":{"gradient":"linear","x1":0,"y1":0,"x2":0.333,"y2":1.187,"stops":[{"offset":0,"color":"#111"},{"offset":0.0125,"color":"#111"},{"offset":0.0125,"color":"#fff"},{"offset":0.0417,"color":"#fff"},{"offset":0.0417,"color":"#111"},{"offset":0.0542,"color":"#111"},{"offset":0.0542,"color":"#fff"},{"offset":0.0833,"color":"#fff"},{"offset":0.0833,"color":"#111"},{"offset":0.0958,"color":"#111"},{"offset":0.0958,"color":"#fff"},{"offset":0.125,"color":"#fff"},{"offset":0.125,"color":"#111"},{"offset":0.1375,"color":"#111"},{"offset":0.1375,"color":"#fff"},{"offset":0.1667,"color":"#fff"},{"offset":0.1667,"color":"#111"},{"offset":0.1792,"color":"#111"},{"offset":0.1792,"color":"#fff"},{"offset":0.2083,"color":"#fff"},{"offset":0.2083,"color":"#111"},{"offset":0.2208,"color":"#111"},{"offset":0.2208,"color":"#fff"},{"offset":0.25,"color":"#fff"},{"offset":0.25,"color":"#111"},{"offset":0.2625,"color":"#111"},{"offset":0.2625,"color":"#fff"},{"offset":0.2917,"color":"#fff"},{"offset":0.2917,"color":"#111"},{"offset":0.3042,"color":"#111"},{"offset":0.3042,"color":"#fff"},{"offset":0.3333,"color":"#fff"},{"offset":0.3333,"color":"#111"},{"offset":0.3458,"color":"#111"},{"offset":0.3458,"color":"#fff"},{"offset":0.375,"color":"#fff"},{"offset":0.375,"color":"#111"},{"offset":0.3875,"color":"#111"},{"offset":0.3875,"color":"#fff"},{"offset":0.4167,"color":"#fff"},{"offset":0.4167,"color":"#111"},{"offset":0.4292,"color":"#111"},{"offset":0.4292,"color":"#fff"},{"offset":0.4583,"color":"#fff"},{"offset":0.4583,"color":"#111"},{"offset":0.4708,"color":"#111"},{"offset":0.4708,"color":"#fff"},{"offset":0.5,"color":"#fff"},{"offset":0.5,"color":"#111"},{"offset":0.5125,"color":"#111"},{"offset":0.5125,"color":"#fff"},{"offset":0.5417,"color":"#fff"},{"offset":0.5417,"color":"#111"},{"offset":0.5542,"color":"#111"},{"offset":0.5542,"color":"#fff"},{"offset":0.5833,"color":"#fff"},{"offset":0.5833,"color":"#111"},{"offset":0.5958,"color":"#111"},{"offset":0.5958,"color":"#fff"},{"offset":0.625,"color":"#fff"},{"offset":0.625,"color":"#111"},{"offset":0.6375,"color":"#111"},{"offset":0.6375,"color":"#fff"},{"offset":0.6667,"color":"#fff"},{"offset":0.6667,"color":"#111"},{"offset":0.6792,"color":"#111"},{"offset":0.6792,"color":"#fff"},{"offset":0.7083,"color":"#fff"},{"offset":0.7083,"color":"#111"},{"offset":0.7208,"color":"#111"},{"offset":0.7208,"color":"#fff"},{"offset":0.75,"color":"#fff"},{"offset":0.75,"color":"#111"},{"offset":0.7625,"color":"#111"},{"offset":0.7625,"color":"#fff"},{"offset":0.7917,"color":"#fff"},{"offset":0.7917,"color":"#111"},{"offset":0.8042,"color":"#111"},{"offset":0.8042,"color":"#fff"},{"offset":0.8333,"color":"#fff"},{"offset":0.8333,"color":"#111"},{"offset":0.8458,"color":"#111"},{"offset":0.8458,"color":"#fff"},{"offset":0.875,"color":"#fff"},{"offset":0.875,"color":"#111"},{"offset":0.8875,"color":"#111"},{"offset":0.8875,"color":"#fff"},{"offset":0.9167,"color":"#fff"},{"offset":0.9167,"color":"#111"},{"offset":0.9292,"color":"#111"},{"offset":0.9292,"color":"#fff"},{"offset":0.9583,"color":"#fff"},{"offset":0.9583,"color":"#111"},{"offset":0.9708,"color":"#111"},{"offset":0.9708,"color":"#fff"},{"offset":1,"color":"#fff"}]}},
   "encoding":{"x":{"field":"group","type":"nominal","scale":{"domain":["Saline","TNFα","T1","T2","T3"],"paddingInner":0.4,"paddingOuter":0.35}},"y":{"field":"mean","type":"quantitative","scale":{"domain":[0,2],"nice":false,"zero":false}}}},
  {"data":{"name":"C"},"transform":[{"filter":"isValid(datum.upper)"}],"mark":{"type":"rule","color":"#000","strokeWidth":1.5},
   "encoding":{"x":{"field":"group","type":"nominal","scale":{"domain":["Saline","TNFα","T1","T2","T3"],"paddingInner":0.4,"paddingOuter":0.35}},"y":{"field":"mean","type":"quantitative","scale":{"domain":[0,2],"nice":false,"zero":false}},"y2":{"field":"upper"}}},
  {"data":{"name":"C"},"transform":[{"filter":"isValid(datum.upper)"}],"mark":{"type":"tick","color":"#000","size":16,"thickness":1.5},
   "encoding":{"x":{"field":"group","type":"nominal","scale":{"domain":["Saline","TNFα","T1","T2","T3"],"paddingInner":0.4,"paddingOuter":0.35}},"y":{"field":"upper","type":"quantitative","scale":{"domain":[0,2],"nice":false,"zero":false}}}},
  {"data":{"name":"C"},"mark":{"type":"bar","fillOpacity":0,"stroke":"#000","strokeWidth":2.4},
   "encoding":{"x":{"field":"group","type":"nominal","scale":{"domain":["Saline","TNFα","T1","T2","T3"],"paddingInner":0.4,"paddingOuter":0.35}},"y":{"field":"mean","type":"quantitative","scale":{"domain":[0,2],"nice":false,"zero":false}}}}
 ]
},
{
 "title":{"text":"D\u00a0\u00a0\u00a0\u00a0\u00a0\u00a0\u00a0\u00a0\u00a0\u00a0HPMEC VEGF Expression","dx":4,"offset":6},
 "width":260,"height":174,
 "layer":[
  {"data":{"name":"D"},"transform":[{"filter":"datum.group==='Saline'"}],"mark":{"type":"bar","fill":"#5a5a5a","strokeWidth":0},
   "encoding":{"x":{"field":"group","type":"nominal","scale":{"domain":["Saline","TNFα","T1","T2","T3"],"paddingInner":0.4,"paddingOuter":0.35},"axis":{"title":null,"labelAngle":0,"tickSize":5,"labelPadding":4}},
    "y":{"field":"mean","type":"quantitative","scale":{"domain":[0,3],"nice":false,"zero":false},"axis":{"title":"Expression relative to control","values":[0,1,2,3],"tickCount":20,"format":"d","labelOverlap":false,"titlePadding":8}}}},
  {"data":{"name":"D"},"transform":[{"filter":"datum.group==='TNFα'"}],"mark":{"type":"bar","strokeWidth":0,"fill":{"gradient":"linear","x1":0,"y1":0,"x2":0,"y2":1,"stops":[{"offset":0,"color":"#000"},{"offset":0.0278,"color":"#000"},{"offset":0.0278,"color":"#fff"},{"offset":0.0556,"color":"#fff"},{"offset":0.0556,"color":"#000"},{"offset":0.0833,"color":"#000"},{"offset":0.0833,"color":"#fff"},{"offset":0.1111,"color":"#fff"},{"offset":0.1111,"color":"#000"},{"offset":0.1389,"color":"#000"},{"offset":0.1389,"color":"#fff"},{"offset":0.1667,"color":"#fff"},{"offset":0.1667,"color":"#000"},{"offset":0.1944,"color":"#000"},{"offset":0.1944,"color":"#fff"},{"offset":0.2222,"color":"#fff"},{"offset":0.2222,"color":"#000"},{"offset":0.25,"color":"#000"},{"offset":0.25,"color":"#fff"},{"offset":0.2778,"color":"#fff"},{"offset":0.2778,"color":"#000"},{"offset":0.3056,"color":"#000"},{"offset":0.3056,"color":"#fff"},{"offset":0.3333,"color":"#fff"},{"offset":0.3333,"color":"#000"},{"offset":0.3611,"color":"#000"},{"offset":0.3611,"color":"#fff"},{"offset":0.3889,"color":"#fff"},{"offset":0.3889,"color":"#000"},{"offset":0.4167,"color":"#000"},{"offset":0.4167,"color":"#fff"},{"offset":0.4444,"color":"#fff"},{"offset":0.4444,"color":"#000"},{"offset":0.4722,"color":"#000"},{"offset":0.4722,"color":"#fff"},{"offset":0.5,"color":"#fff"},{"offset":0.5,"color":"#000"},{"offset":0.5278,"color":"#000"},{"offset":0.5278,"color":"#fff"},{"offset":0.5556,"color":"#fff"},{"offset":0.5556,"color":"#000"},{"offset":0.5833,"color":"#000"},{"offset":0.5833,"color":"#fff"},{"offset":0.6111,"color":"#fff"},{"offset":0.6111,"color":"#000"},{"offset":0.6389,"color":"#000"},{"offset":0.6389,"color":"#fff"},{"offset":0.6667,"color":"#fff"},{"offset":0.6667,"color":"#000"},{"offset":0.6944,"color":"#000"},{"offset":0.6944,"color":"#fff"},{"offset":0.7222,"color":"#fff"},{"offset":0.7222,"color":"#000"},{"offset":0.75,"color":"#000"},{"offset":0.75,"color":"#fff"},{"offset":0.7778,"color":"#fff"},{"offset":0.7778,"color":"#000"},{"offset":0.8056,"color":"#000"},{"offset":0.8056,"color":"#fff"},{"offset":0.8333,"color":"#fff"},{"offset":0.8333,"color":"#000"},{"offset":0.8611,"color":"#000"},{"offset":0.8611,"color":"#fff"},{"offset":0.8889,"color":"#fff"},{"offset":0.8889,"color":"#000"},{"offset":0.9167,"color":"#000"},{"offset":0.9167,"color":"#fff"},{"offset":0.9444,"color":"#fff"},{"offset":0.9444,"color":"#000"},{"offset":0.9722,"color":"#000"},{"offset":0.9722,"color":"#fff"},{"offset":1,"color":"#fff"}]}},
   "encoding":{"x":{"field":"group","type":"nominal","scale":{"domain":["Saline","TNFα","T1","T2","T3"],"paddingInner":0.4,"paddingOuter":0.35}},"y":{"field":"mean","type":"quantitative","scale":{"domain":[0,3],"nice":false,"zero":false}}}},
  {"data":{"name":"D"},"transform":[{"filter":"datum.group==='TNFα'"}],"mark":{"type":"bar","strokeWidth":0,"blend":"difference","fill":{"gradient":"linear","x1":0,"y1":0,"x2":1,"y2":0,"stops":[{"offset":0,"color":"#fff"},{"offset":0.1,"color":"#fff"},{"offset":0.1,"color":"#000"},{"offset":0.2,"color":"#000"},{"offset":0.2,"color":"#fff"},{"offset":0.3,"color":"#fff"},{"offset":0.3,"color":"#000"},{"offset":0.4,"color":"#000"},{"offset":0.4,"color":"#fff"},{"offset":0.5,"color":"#fff"},{"offset":0.5,"color":"#000"},{"offset":0.6,"color":"#000"},{"offset":0.6,"color":"#fff"},{"offset":0.7,"color":"#fff"},{"offset":0.7,"color":"#000"},{"offset":0.8,"color":"#000"},{"offset":0.8,"color":"#fff"},{"offset":0.9,"color":"#fff"},{"offset":0.9,"color":"#000"},{"offset":1,"color":"#000"}]}},
   "encoding":{"x":{"field":"group","type":"nominal","scale":{"domain":["Saline","TNFα","T1","T2","T3"],"paddingInner":0.4,"paddingOuter":0.35}},"y":{"field":"mean","type":"quantitative","scale":{"domain":[0,3],"nice":false,"zero":false}}}},
  {"data":{"name":"D"},"transform":[{"filter":"datum.group==='T1'"}],"mark":{"type":"bar","strokeWidth":0,"fill":{"gradient":"linear","x1":0,"y1":0,"x2":0,"y2":1,"stops":[{"offset":0,"color":"#fff"},{"offset":0.0596,"color":"#fff"},{"offset":0.0596,"color":"#111"},{"offset":0.0738,"color":"#111"},{"offset":0.0738,"color":"#fff"},{"offset":0.1262,"color":"#fff"},{"offset":0.1262,"color":"#111"},{"offset":0.1404,"color":"#111"},{"offset":0.1404,"color":"#fff"},{"offset":0.1929,"color":"#fff"},{"offset":0.1929,"color":"#111"},{"offset":0.2071,"color":"#111"},{"offset":0.2071,"color":"#fff"},{"offset":0.2596,"color":"#fff"},{"offset":0.2596,"color":"#111"},{"offset":0.2738,"color":"#111"},{"offset":0.2738,"color":"#fff"},{"offset":0.3262,"color":"#fff"},{"offset":0.3262,"color":"#111"},{"offset":0.3404,"color":"#111"},{"offset":0.3404,"color":"#fff"},{"offset":0.3929,"color":"#fff"},{"offset":0.3929,"color":"#111"},{"offset":0.4071,"color":"#111"},{"offset":0.4071,"color":"#fff"},{"offset":0.4596,"color":"#fff"},{"offset":0.4596,"color":"#111"},{"offset":0.4738,"color":"#111"},{"offset":0.4738,"color":"#fff"},{"offset":0.5262,"color":"#fff"},{"offset":0.5262,"color":"#111"},{"offset":0.5404,"color":"#111"},{"offset":0.5404,"color":"#fff"},{"offset":0.5929,"color":"#fff"},{"offset":0.5929,"color":"#111"},{"offset":0.6071,"color":"#111"},{"offset":0.6071,"color":"#fff"},{"offset":0.6596,"color":"#fff"},{"offset":0.6596,"color":"#111"},{"offset":0.6738,"color":"#111"},{"offset":0.6738,"color":"#fff"},{"offset":0.7262,"color":"#fff"},{"offset":0.7262,"color":"#111"},{"offset":0.7404,"color":"#111"},{"offset":0.7404,"color":"#fff"},{"offset":0.7929,"color":"#fff"},{"offset":0.7929,"color":"#111"},{"offset":0.8071,"color":"#111"},{"offset":0.8071,"color":"#fff"},{"offset":0.8596,"color":"#fff"},{"offset":0.8596,"color":"#111"},{"offset":0.8738,"color":"#111"},{"offset":0.8738,"color":"#fff"},{"offset":0.9262,"color":"#fff"},{"offset":0.9262,"color":"#111"},{"offset":0.9404,"color":"#111"},{"offset":0.9404,"color":"#fff"},{"offset":1,"color":"#fff"}]}},
   "encoding":{"x":{"field":"group","type":"nominal","scale":{"domain":["Saline","TNFα","T1","T2","T3"],"paddingInner":0.4,"paddingOuter":0.35}},"y":{"field":"mean","type":"quantitative","scale":{"domain":[0,3],"nice":false,"zero":false}}}},
  {"data":{"name":"D"},"transform":[{"filter":"datum.group==='T2'"}],"mark":{"type":"bar","strokeWidth":0,"fill":{"gradient":"linear","x1":0,"y1":0,"x2":1,"y2":0,"stops":[{"offset":0,"color":"#fff"},{"offset":0.147,"color":"#fff"},{"offset":0.147,"color":"#111"},{"offset":0.187,"color":"#111"},{"offset":0.187,"color":"#fff"},{"offset":0.313,"color":"#fff"},{"offset":0.313,"color":"#111"},{"offset":0.353,"color":"#111"},{"offset":0.353,"color":"#fff"},{"offset":0.48,"color":"#fff"},{"offset":0.48,"color":"#111"},{"offset":0.52,"color":"#111"},{"offset":0.52,"color":"#fff"},{"offset":0.647,"color":"#fff"},{"offset":0.647,"color":"#111"},{"offset":0.687,"color":"#111"},{"offset":0.687,"color":"#fff"},{"offset":0.813,"color":"#fff"},{"offset":0.813,"color":"#111"},{"offset":0.853,"color":"#111"},{"offset":0.853,"color":"#fff"},{"offset":1,"color":"#fff"}]}},
   "encoding":{"x":{"field":"group","type":"nominal","scale":{"domain":["Saline","TNFα","T1","T2","T3"],"paddingInner":0.4,"paddingOuter":0.35}},"y":{"field":"mean","type":"quantitative","scale":{"domain":[0,3],"nice":false,"zero":false}}}},
  {"data":{"name":"D"},"transform":[{"filter":"datum.group==='T3'"}],"mark":{"type":"bar","strokeWidth":0,"fill":{"gradient":"linear","x1":0,"y1":0,"x2":0.518,"y2":1.211,"stops":[{"offset":0,"color":"#111"},{"offset":0.0167,"color":"#111"},{"offset":0.0167,"color":"#fff"},{"offset":0.0556,"color":"#fff"},{"offset":0.0556,"color":"#111"},{"offset":0.0723,"color":"#111"},{"offset":0.0723,"color":"#fff"},{"offset":0.1111,"color":"#fff"},{"offset":0.1111,"color":"#111"},{"offset":0.1278,"color":"#111"},{"offset":0.1278,"color":"#fff"},{"offset":0.1667,"color":"#fff"},{"offset":0.1667,"color":"#111"},{"offset":0.1834,"color":"#111"},{"offset":0.1834,"color":"#fff"},{"offset":0.2222,"color":"#fff"},{"offset":0.2222,"color":"#111"},{"offset":0.2389,"color":"#111"},{"offset":0.2389,"color":"#fff"},{"offset":0.2778,"color":"#fff"},{"offset":0.2778,"color":"#111"},{"offset":0.2945,"color":"#111"},{"offset":0.2945,"color":"#fff"},{"offset":0.3333,"color":"#fff"},{"offset":0.3333,"color":"#111"},{"offset":0.35,"color":"#111"},{"offset":0.35,"color":"#fff"},{"offset":0.3889,"color":"#fff"},{"offset":0.3889,"color":"#111"},{"offset":0.4056,"color":"#111"},{"offset":0.4056,"color":"#fff"},{"offset":0.4444,"color":"#fff"},{"offset":0.4444,"color":"#111"},{"offset":0.4611,"color":"#111"},{"offset":0.4611,"color":"#fff"},{"offset":0.5,"color":"#fff"},{"offset":0.5,"color":"#111"},{"offset":0.5167,"color":"#111"},{"offset":0.5167,"color":"#fff"},{"offset":0.5556,"color":"#fff"},{"offset":0.5556,"color":"#111"},{"offset":0.5723,"color":"#111"},{"offset":0.5723,"color":"#fff"},{"offset":0.6111,"color":"#fff"},{"offset":0.6111,"color":"#111"},{"offset":0.6278,"color":"#111"},{"offset":0.6278,"color":"#fff"},{"offset":0.6667,"color":"#fff"},{"offset":0.6667,"color":"#111"},{"offset":0.6834,"color":"#111"},{"offset":0.6834,"color":"#fff"},{"offset":0.7222,"color":"#fff"},{"offset":0.7222,"color":"#111"},{"offset":0.7389,"color":"#111"},{"offset":0.7389,"color":"#fff"},{"offset":0.7778,"color":"#fff"},{"offset":0.7778,"color":"#111"},{"offset":0.7945,"color":"#111"},{"offset":0.7945,"color":"#fff"},{"offset":0.8333,"color":"#fff"},{"offset":0.8333,"color":"#111"},{"offset":0.85,"color":"#111"},{"offset":0.85,"color":"#fff"},{"offset":0.8889,"color":"#fff"},{"offset":0.8889,"color":"#111"},{"offset":0.9056,"color":"#111"},{"offset":0.9056,"color":"#fff"},{"offset":0.9444,"color":"#fff"},{"offset":0.9444,"color":"#111"},{"offset":0.9611,"color":"#111"},{"offset":0.9611,"color":"#fff"},{"offset":1,"color":"#fff"}]}},
   "encoding":{"x":{"field":"group","type":"nominal","scale":{"domain":["Saline","TNFα","T1","T2","T3"],"paddingInner":0.4,"paddingOuter":0.35}},"y":{"field":"mean","type":"quantitative","scale":{"domain":[0,3],"nice":false,"zero":false}}}},
  {"data":{"name":"D"},"transform":[{"filter":"isValid(datum.upper)"}],"mark":{"type":"rule","color":"#000","strokeWidth":1.5},
   "encoding":{"x":{"field":"group","type":"nominal","scale":{"domain":["Saline","TNFα","T1","T2","T3"],"paddingInner":0.4,"paddingOuter":0.35}},"y":{"field":"mean","type":"quantitative","scale":{"domain":[0,3],"nice":false,"zero":false}},"y2":{"field":"upper"}}},
  {"data":{"name":"D"},"transform":[{"filter":"isValid(datum.upper)"}],"mark":{"type":"tick","color":"#000","size":16,"thickness":1.5},
   "encoding":{"x":{"field":"group","type":"nominal","scale":{"domain":["Saline","TNFα","T1","T2","T3"],"paddingInner":0.4,"paddingOuter":0.35}},"y":{"field":"upper","type":"quantitative","scale":{"domain":[0,3],"nice":false,"zero":false}}}},
  {"data":{"name":"D"},"mark":{"type":"bar","fillOpacity":0,"stroke":"#000","strokeWidth":2.4},
   "encoding":{"x":{"field":"group","type":"nominal","scale":{"domain":["Saline","TNFα","T1","T2","T3"],"paddingInner":0.4,"paddingOuter":0.35}},"y":{"field":"mean","type":"quantitative","scale":{"domain":[0,3],"nice":false,"zero":false}}}},
  {"data":{"name":"Dbr"},"transform":[{"filter":"datum.part==='mid'"}],"mark":{"type":"rule","color":"#000","strokeWidth":2.2,"strokeCap":"square"},
   "encoding":{"x":{"field":"g1","type":"nominal","scale":{"domain":["Saline","TNFα","T1","T2","T3"],"paddingInner":0.4,"paddingOuter":0.35}},"x2":{"field":"g2"},"y":{"field":"lo","type":"quantitative","scale":{"domain":[0,3],"nice":false,"zero":false}},"y2":{"field":"hi"}}},
  {"data":{"name":"Dtxt"},"mark":{"type":"text","font":"Liberation Sans","fontSize":12,"color":"#000","align":"center","baseline":"alphabetic"},
   "encoding":{"x":{"field":"g","type":"nominal","bandPosition":1.33,"scale":{"domain":["Saline","TNFα","T1","T2","T3"],"paddingInner":0.4,"paddingOuter":0.35}},"y":{"field":"v","type":"quantitative","scale":{"domain":[0,3],"nice":false,"zero":false}},"text":{"field":"label"}}}
 ]
}
]
}
